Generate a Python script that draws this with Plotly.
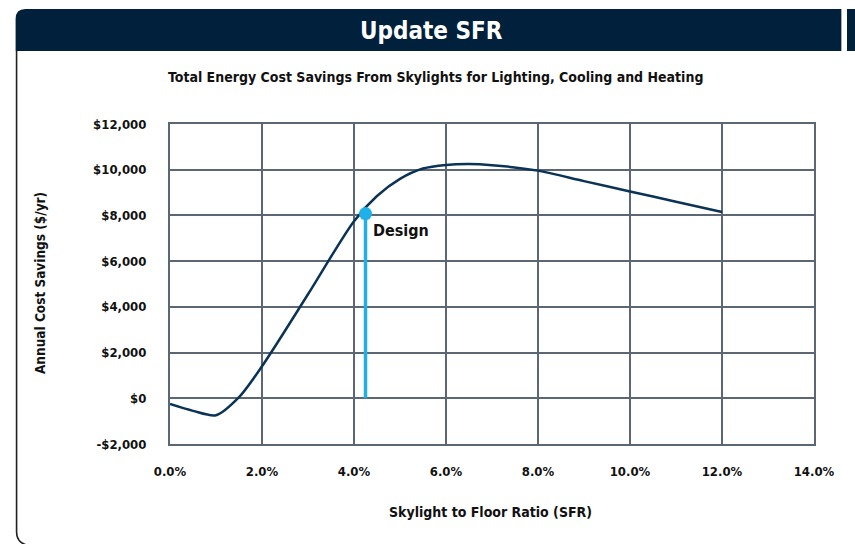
import plotly.graph_objects as go

# Data
sfr_pct = [0, 0.5, 1.0, 1.5, 2, 3, 4, 4.5, 5, 5.5, 6, 6.5, 7, 8, 9, 10, 11, 12]
savings = [-250, -550, -740, 50, 1400, 4550, 7750, 8850, 9600, 10050, 10210, 10250, 10200, 9960, 9500, 9050, 8600, 8150]
design_sfr = 4.25
design_savings = 8080
x_ticks = [0, 2, 4, 6, 8, 10, 12, 14]
x_tick_labels = ["0.0%", "2.0%", "4.0%", "6.0%", "8.0%", "10.0%", "12.0%", "14.0%"]
y_ticks = [-2000, 0, 2000, 4000, 6000, 8000, 10000, 12000]
y_tick_labels = ["-$2,000", "$0", "$2,000", "$4,000", "$6,000", "$8,000", "$10,000", "$12,000"]

W, H = 847, 544
L, R, T, B = 170, 18, 124, 100
pw, ph = W - L - R, H - T - B

def px(x):
    return (x - L) / pw

def py(y):
    return (H - B - y) / ph

FONT = "DejaVu Sans Condensed, Liberation Sans Narrow, sans-serif"
GRID = "#5b6774"
NAVY = "#00203b"
TXT = "#111111"

fig = go.Figure()
fig.add_trace(go.Scatter(x=sfr_pct, y=savings, mode="lines",
                         line=dict(color="#0b3356", width=2.5, shape="spline", smoothing=0.8),
                         hoverinfo="skip", showlegend=False))
fig.add_trace(go.Scatter(x=[design_sfr, design_sfr], y=[0, design_savings], mode="lines",
                         line=dict(color="#1fb0ea", width=3.5), showlegend=False, hoverinfo="skip"))
fig.add_trace(go.Scatter(x=[design_sfr], y=[design_savings], mode="markers",
                         marker=dict(color="#1fb0ea", size=13), showlegend=False, hoverinfo="skip"))

fig.add_annotation(x=design_sfr + 0.12, y=design_savings - 760, text="<b>Design</b>",
                   showarrow=False, xanchor="left", yanchor="middle",
                   font=dict(family=FONT, size=16, color=TXT))

# header bar
r = 10
x0, x1, yt, yb = 12, W + 10, 9, 51
hdr = (f"M {px(x0)},{py(yb)} L {px(x0)},{py(yt + r)} "
       f"Q {px(x0)},{py(yt)} {px(x0 + r)},{py(yt)} L {px(x1)},{py(yt)} L {px(x1)},{py(yb)} Z")
fig.add_shape(type="path", path=hdr, xref="paper", yref="paper",
              fillcolor=NAVY, line=dict(width=0), layer="below")
# left border with rounded bottom
bx = 13
brd = (f"M {px(bx)},{py(yb)} L {px(bx)},{py(532)} "
       f"Q {px(bx)},{py(542)} {px(bx + 10)},{py(545)} L {px(W + 10)},{py(545)}")
fig.add_shape(type="path", path=brd, xref="paper", yref="paper",
              line=dict(color="#222222", width=1.6))

fig.add_annotation(x=px(438), y=py(31), xref="paper", yref="paper", text="<b>Update SFR</b>",
                   showarrow=False, xanchor="center", yanchor="middle",
                   font=dict(family=FONT, size=24, color="white"))
fig.add_annotation(x=px(442), y=py(77), xref="paper", yref="paper",
                   text="<b>Total Energy Cost Savings From Skylights for Lighting, Cooling and Heating</b>",
                   showarrow=False, xanchor="center", yanchor="middle",
                   font=dict(family=FONT, size=14, color=TXT))
fig.add_annotation(x=px(37), y=py(283), xref="paper", yref="paper",
                   text="<b>Annual Cost Savings ($/yr)</b>", textangle=-90,
                   showarrow=False, xanchor="center", yanchor="middle",
                   font=dict(family=FONT, size=13.5, color=TXT))
fig.add_annotation(x=px(498), y=py(512), xref="paper", yref="paper",
                   text="<b>Skylight to Floor Ratio (SFR)</b>",
                   showarrow=False, xanchor="center", yanchor="middle",
                   font=dict(family=FONT, size=14, color=TXT))

fig.update_layout(
    width=W, height=H, autosize=False,
    margin=dict(l=L, r=R, t=T, b=B),
    paper_bgcolor="white", plot_bgcolor="white",
    showlegend=False,
    font=dict(family=FONT, color=TXT),
)
fig.update_xaxes(range=[0, 14], tickvals=x_ticks, ticktext=[f"<b>{t}</b>" for t in x_tick_labels],
                 showgrid=True, gridcolor=GRID, gridwidth=2, zeroline=False,
                 showline=True, linecolor=GRID, linewidth=2, mirror=True,
                 ticks="outside", ticklen=14, tickcolor="rgba(0,0,0,0)",
                 ticklabeloverflow="allow",
                 tickfont=dict(family=FONT, size=13, color=TXT), fixedrange=True)
fig.update_yaxes(range=[-2000, 12000], tickvals=y_ticks, ticktext=[f"<b>{t}</b>" for t in y_tick_labels],
                 showgrid=True, gridcolor=GRID, gridwidth=2, zeroline=False,
                 showline=True, linecolor=GRID, linewidth=2, mirror=True,
                 ticks="outside", ticklen=19, tickcolor="rgba(0,0,0,0)",
                 tickfont=dict(family=FONT, size=13, color=TXT), fixedrange=True)

fig.write_html("out.html",
               config={"responsive": False, "displayModeBar": False, "staticPlot": True},
               post_script=("document.documentElement.style.margin='0';"
                            "document.body.style.margin='0';document.body.style.padding='0';"
                            "document.body.style.overflow='hidden';"
                            "document.documentElement.style.overflow='hidden';"
                            "document.documentElement.style.background="
                            "'linear-gradient(to bottom, white 0px, white 9px, " + NAVY + " 9px, "
                            + NAVY + " 51px, white 51px, white 100%)';"
                            "document.body.style.background='transparent';"))
